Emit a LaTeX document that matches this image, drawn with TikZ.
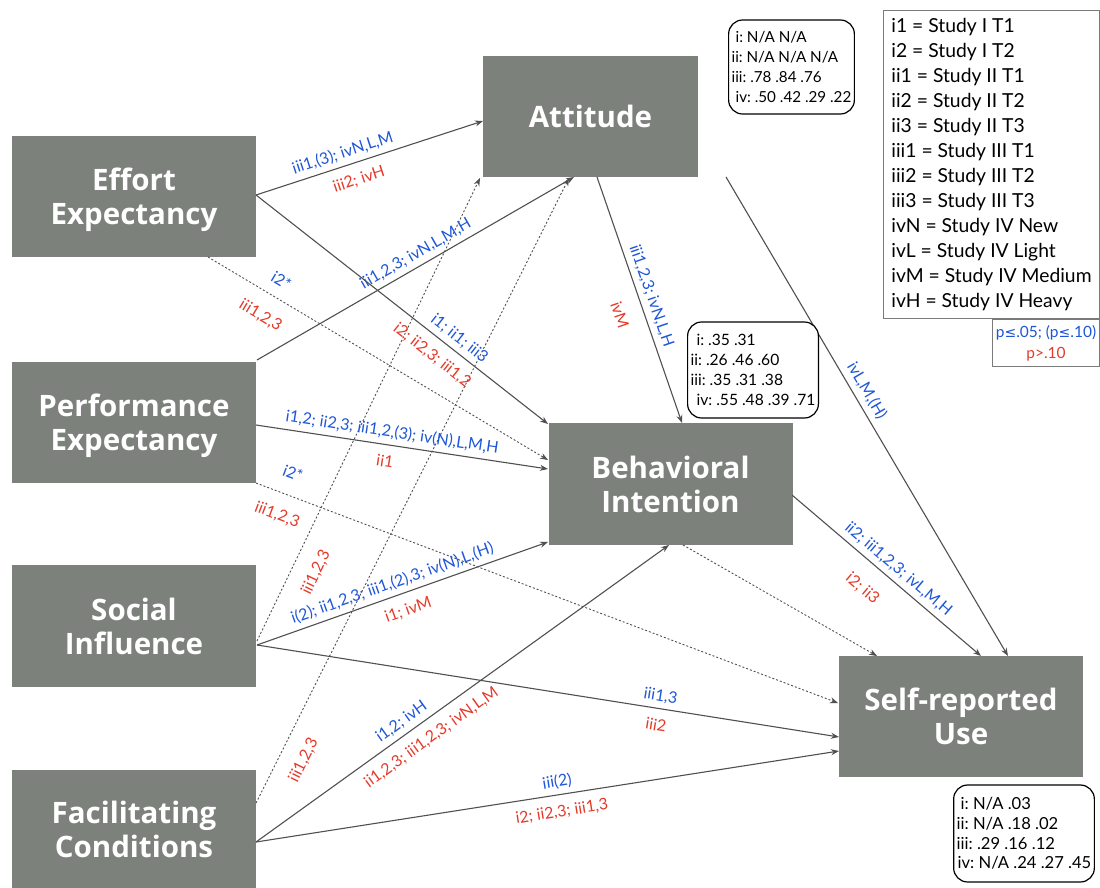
\documentclass[tikz,border=0pt]{standalone}
\usepackage{fontspec}
\setmainfont{Lato}
\newfontfamily\headfnt{Open Sans}
\newfontfamily\symfnt{DejaVu Sans}
\usetikzlibrary{arrows.meta}

\definecolor{boxgray}{HTML}{7D817C}
\definecolor{linegray}{HTML}{505050}
\definecolor{sigblue}{HTML}{1E56D8}
\definecolor{nsred}{HTML}{E43A2A}
\definecolor{framegray}{HTML}{7A7A7A}

\newcommand{\lblfont}{\fontsize{16}{19}\selectfont}
\newcommand{\pleq}{{\symfnt\fontsize{14}{18}\selectfont ≤}}

\tikzset{
  factor/.style={fill=boxgray, text=white, align=center, inner sep=0pt,
    text depth=0pt, font=\headfnt\bfseries\fontsize{29.5}{34}\selectfont},
  link/.style={draw=linegray, line width=1.1pt,
    -{Stealth[length=8pt,width=6pt]}},
  weak/.style={link, line width=0.9pt, dash pattern=on 2pt off 2pt},
  bl/.style={text=sigblue, font=\lblfont, sloped, above=4pt, inner sep=1pt},
  rl/.style={text=nsred, font=\lblfont, sloped, below=9pt, inner sep=1pt},
  valbox/.style={draw=black, line width=1.2pt, rounded corners=14pt,
    align=left, inner xsep=3pt, inner ysep=3pt},
}

\begin{document}
\frenchspacing
\begin{tikzpicture}[x=1pt, y=-1pt]
\useasboundingbox (0,0) rectangle (1100,888);

% constructs
\node (ee)  [factor, minimum width=244pt, minimum height=121pt] at (134,196.5) {Effort\\Expectancy};
\node (pe)  [factor, minimum width=244pt, minimum height=121pt] at (134,422) {Performance\\Expectancy};
\node (si)  [factor, minimum width=244pt, minimum height=122pt] at (134,626) {Social\\Influence};
\node (fc)  [factor, minimum width=244pt, minimum height=118pt] at (134,829) {Facilitating\\Conditions};
\node (att) [factor, minimum width=215pt, minimum height=121pt] at (590.5,116.5) {Attitude};
\node (bi)  [factor, minimum width=244pt, minimum height=122pt] at (670.5,484) {Behavioral\\Intention};
\node (sru) [factor, minimum width=244pt, minimum height=121pt] at (961,716.5) {Self-reported\\Use};

% attachment points on the box borders
\coordinate (ee-e)  at (256,195);
\coordinate (ee-s)  at (208,257);
\coordinate (pe-ne) at (257,360);
\coordinate (pe-e)  at (256,425);
\coordinate (pe-se) at (256,483);
\coordinate (si-e)  at (257,645);
\coordinate (si-ne) at (257,641);
\coordinate (fc-e)  at (256,842);
\coordinate (fc-ne) at (256,803);
\coordinate (att-w)  at (483,121);
\coordinate (att-s1) at (480,178);
\coordinate (att-s2) at (569,178);
\coordinate (att-s3) at (574,177);
\coordinate (att-s4) at (597,177);
\coordinate (att-s5) at (726,177);
\coordinate (bi-nw) at (548,424);
\coordinate (bi-w1) at (548,460);
\coordinate (bi-w2) at (548,469);
\coordinate (bi-w3) at (548,542);
\coordinate (bi-n)  at (682,423);
\coordinate (bi-s1) at (669,545);
\coordinate (bi-s2) at (683,545);
\coordinate (bi-e)  at (792,495);
\coordinate (sru-n1) at (877,656);
\coordinate (sru-n2) at (981,656);
\coordinate (sru-n3) at (1008,656);
\coordinate (sru-w1) at (838,703);
\coordinate (sru-w2) at (839,737);
\coordinate (sru-w3) at (839,751);

% non-significant paths
\draw[weak] (ee-s) -- node[bl,pos=.19,above=6pt]{i2*} node[rl,pos=.19,below=6pt]{iii1,2,3} (bi-w1);
\draw[weak] (pe-se) -- node[bl,pos=.05,above=11pt]{i2*} node[rl,pos=.05,below=5pt]{iii1,2,3} (sru-w1);
\draw[weak] (si-ne) -- node[rl,pos=.17,below=6pt]{iii1,2,3} (att-s1);
\draw[weak] (fc-ne) -- node[rl,pos=.085,below=6pt]{iii1,2,3} (att-s2);
\draw[weak] (bi-s2) -- (sru-n1);

% paths into Attitude
\draw[link] (ee-e) -- node[bl,pos=.40]{iii1,(3); ivN,L,M} node[rl,pos=.43]{iii2; ivH} (att-w);
\draw[link] (pe-ne) -- node[bl,pos=.52]{iii1,2,3; ivN,L,M,H} (att-s3);

% paths into Behavioral Intention
\draw[link] (ee-e) -- node[bl,pos=.67]{i1; ii1; iii3} node[rl,pos=.64]{i2; ii2,3; iii1,2} (bi-nw);
\draw[link] (pe-e) -- node[bl,pos=.46]{i1,2; ii2,3; iii1,2,(3); iv(N),L,M,H} node[rl,pos=.45]{ii1} (bi-w2);
\draw[link] (si-e) -- node[bl,pos=.48]{i(2); ii1,2,3; iii1,(2),3; iv(N),L,(H)} node[rl,pos=.50]{i1; ivM} (bi-w3);
\draw[link] (fc-e) -- node[bl,pos=.37]{i1,2; ivH} node[rl,pos=.40]{ii1,2,3; iii1,2,3; ivN,L,M} (bi-s1);
\draw[link] (att-s4) -- node[bl,pos=.50]{iii1,2,3; ivN,L,H} node[rl,pos=.53,below=7pt]{ivM} (bi-n);

% paths into Self-reported Use
\draw[link] (si-e) -- node[bl,pos=.69]{iii1,3} node[rl,pos=.69]{iii2} (sru-w2);
\draw[link] (fc-e) -- node[bl,pos=.52]{iii(2)} node[rl,pos=.52]{i2; ii2,3; iii1,3} (sru-w3);
\draw[link] (att-s5) -- node[bl,pos=.46]{ivL,M,(H)} (sru-n3);
\draw[link] (bi-e) -- node[bl,pos=.52]{ii2; iii1,2,3; ivL,M,H} node[rl,pos=.46,below=8pt]{i2; ii3} (sru-n2);

% explained variance boxes
\node (attv) [valbox, minimum width=123pt, minimum height=94pt,
  font=\fontsize{15.2}{19.7}\selectfont] at (791.5,67)
  {\hspace*{4pt}i: N/A N/A\\ii: N/A N/A N/A\\iii: .78 .84 .76\\\hspace*{4pt}iv: .50 .42 .29 .22};
\node (biv) [valbox, fill=white, minimum width=130pt, minimum height=96pt,
  font=\fontsize{15.6}{20}\selectfont] at (753,370)
  {\hspace*{6pt}i: .35 .31\\ii: .26 .46 .60\\iii: .35 .31 .38\\\hspace*{6pt}iv: .55 .48 .39 .71};
\node (sruv) [valbox, minimum width=138pt, minimum height=97pt,
  font=\fontsize{16.6}{19.8}\selectfont] at (1024,833.5)
  {\hspace*{4pt}i: N/A .03\\ii: N/A .18 .02\\iii: .29 .16 .12\\\hspace*{1pt}iv: N/A .24 .27 .45};

% key
\node (key) [draw=framegray, line width=1pt, anchor=north west, align=left,
  minimum width=216pt, inner xsep=3pt, inner ysep=7pt, minimum height=308pt,
  font=\fontsize{19.3}{25}\selectfont] at (883,10)
  {i1 = Study I T1\\i2 = Study I T2\\ii1 = Study II T1\\ii2 = Study II T2\\ii3 = Study II T3\\
   iii1 = Study III T1\\iii2 = Study III T2\\iii3 = Study III T3\\ivN = Study IV New\\
   ivL = Study IV Light\\ivM = Study IV Medium\\ivH = Study IV Heavy};
\node (sig) [draw=framegray, line width=1pt, anchor=north east, align=center,
  minimum width=107pt, minimum height=47pt, inner sep=2pt,
  font=\fontsize{15.5}{21}\selectfont] at (key.south east)
  {\textcolor{sigblue}{p\pleq.05; (p\pleq.10)}\\\textcolor{nsred}{p>.10}};
\end{tikzpicture}
\end{document}
